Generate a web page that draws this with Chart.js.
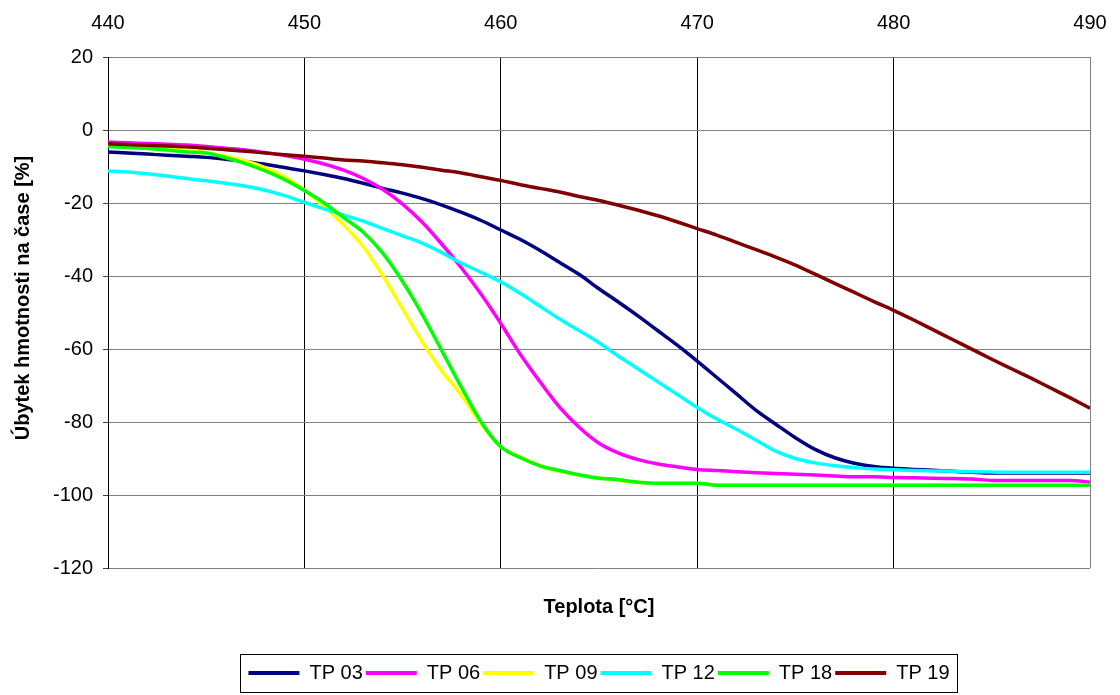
<!DOCTYPE html>
<html>
<head>
<meta charset="utf-8">
<script src="https://cdn.jsdelivr.net/npm/chart.js@4/dist/chart.umd.min.js"></script>
<style>
  html, body { margin: 0; padding: 0; background: #fff; }
  canvas { display: block; }
</style>
</head>
<body>
<canvas id="tgChart" width="1120" height="695"></canvas>
<script>
// temperatures [°C], one reading per degree
const temps = [440, 441, 442, 443, 444, 445, 446, 447, 448, 449,
               450, 451, 452, 453, 454, 455, 456, 457, 458, 459,
               460, 461, 462, 463, 464, 465, 466, 467, 468, 469,
               470, 471, 472, 473, 474, 475, 476, 477, 478, 479,
               480, 481, 482, 483, 484, 485, 486, 487, 488, 489, 490];

const tp03 = [-6.0, -6.3, -6.6, -6.9, -7.2, -7.5, -8.0, -8.6, -9.4, -10.3,
              -11.2, -12.2, -13.3, -14.6, -16.0, -17.3, -18.8, -20.6, -22.6, -24.8,
              -27.4, -30.0, -33.0, -36.3, -39.6, -43.5, -47.2, -51.0, -55.0, -59.0,
              -63.3, -67.8, -72.3, -76.8, -80.6, -84.3, -87.5, -89.8, -91.3, -92.2,
              -92.7, -93.0, -93.2, -93.5, -93.8, -94.0, -94.0, -94.0, -94.0, -94.0, -94.0];

const tp06 = [-3.3, -3.5, -3.7, -3.9, -4.1, -4.5, -5.0, -5.5, -6.2, -7.0,
              -8.0, -9.3, -11.0, -13.3, -16.3, -20.3, -25.3, -31.3, -37.8, -45.0,
              -53.0, -61.5, -69.0, -76.0, -81.5, -85.8, -88.5, -90.3, -91.5, -92.3,
              -93.0, -93.3, -93.6, -93.9, -94.1, -94.3, -94.5, -94.8, -95.0, -95.0,
              -95.2, -95.3, -95.4, -95.5, -95.6, -96.0, -96.0, -96.0, -96.0, -96.0, -96.5];

const tp09 = [-4.0, -4.2, -4.5, -5.0, -5.5, -6.2, -7.2, -8.5, -10.3, -12.8,
              -16.5, -21.0, -26.0, -32.0, -40.0, -49.0, -58.0, -66.0, -72.7, -80.5,
              -86.8, -89.6, -92.0, -93.5, -94.5, -95.3, -96.0, -96.5, -96.8, -96.8,
              -96.8, -97.3, -97.3, -97.3, -97.3, -97.3, -97.3, -97.3, -97.3, -97.3,
              -97.3, -97.3, -97.3, -97.3, -97.3, -97.3, -97.3, -97.3, -97.3, -97.3, -97.3];

const tp12 = [-11.2, -11.5, -12.0, -12.6, -13.3, -13.9, -14.6, -15.4, -16.5, -18.0,
              -19.8, -21.6, -23.3, -25.0, -27.0, -29.0, -31.0, -33.6, -36.5, -39.0,
              -41.6, -44.8, -48.3, -51.8, -55.0, -58.3, -62.0, -65.5, -69.0, -72.5,
              -76.0, -79.2, -82.0, -85.0, -88.0, -90.0, -91.2, -92.0, -92.5, -92.9,
              -93.1, -93.3, -93.4, -93.5, -93.6, -93.7, -93.8, -93.8, -93.8, -93.8, -93.8];

const tp18 = [-4.5, -4.8, -5.1, -5.5, -6.0, -6.3, -7.6, -9.2, -11.2, -13.6,
              -16.6, -20.0, -24.0, -28.0, -33.8, -41.5, -50.5, -60.5, -70.5, -80.0,
              -86.8, -89.8, -92.0, -93.3, -94.5, -95.4, -95.8, -96.5, -96.8, -96.8,
              -96.8, -97.3, -97.3, -97.3, -97.3, -97.3, -97.3, -97.3, -97.3, -97.3,
              -97.3, -97.3, -97.3, -97.3, -97.3, -97.3, -97.3, -97.3, -97.3, -97.3, -97.3];

const tp19 = [-3.8, -4.0, -4.2, -4.4, -4.6, -5.0, -5.4, -5.8, -6.3, -6.8,
              -7.2, -7.7, -8.2, -8.5, -9.0, -9.5, -10.2, -11.0, -11.8, -12.8,
              -13.8, -15.0, -16.0, -17.0, -18.2, -19.3, -20.6, -22.0, -23.5, -25.2,
              -27.0, -28.8, -30.8, -32.8, -34.8, -37.0, -39.5, -42.0, -44.5, -47.0,
              -49.4, -52.0, -54.7, -57.4, -60.1, -62.8, -65.4, -68.0, -70.7, -73.4, -76.2];

const seriesNames = ['TP 03', 'TP 06', 'TP 09', 'TP 12', 'TP 18', 'TP 19'];
const seriesValues = [tp03, tp06, tp09, tp12, tp18, tp19];
const seriesColors = ['#000080', '#FF00FF', '#FFFF00', '#00FFFF', '#00FF00', '#800000'];

const xTicks = [440, 450, 460, 470, 480, 490];
const yTicks = [20, 0, -20, -40, -60, -80, -100, -120];

const FONT = '"Liberation Sans", Arial, sans-serif';

// y axis title, placed like the Excel original (a bit above plot centre)
const yTitlePlugin = {
    id: 'yTitle',
    afterDraw(chart) {
        const ctx = chart.ctx;
        ctx.save();
        ctx.translate(23, 298);
        ctx.rotate(-Math.PI / 2);
        ctx.font = 'bold 20px ' + FONT;
        ctx.fillStyle = '#000';
        ctx.textAlign = 'center';
        ctx.textBaseline = 'middle';
        ctx.fillText('Úbytek hmotnosti na čase [%]', 0, 0);
        ctx.restore();
    }
};

// frame round the legend
const legendBoxPlugin = {
    id: 'legendBox',
    afterDraw(chart) {
        const boxes = chart.legend && chart.legend.legendHitBoxes;
        if (!boxes || !boxes.length) return;
        const first = boxes[0], last = boxes[boxes.length - 1];
        const cy = first.top + first.height / 2;
        const ctx = chart.ctx;
        ctx.save();
        ctx.strokeStyle = '#000';
        ctx.lineWidth = 1;
        ctx.strokeRect(Math.round(first.left - 8) + 0.5, Math.round(cy - 19) + 0.5,
                       Math.round(last.left + last.width - first.left + 16), 38);
        ctx.restore();
    }
};

const tgChart = new Chart(document.getElementById('tgChart').getContext('2d'), {
    type: 'line',
    data: {
        datasets: seriesNames.map((name, i) => ({
            label: name,
            data: temps.map((t, k) => ({ x: t, y: seriesValues[i][k] })),
            borderColor: seriesColors[i],
            backgroundColor: seriesColors[i],
            borderWidth: 3.5,
            pointRadius: 0,
            cubicInterpolationMode: 'monotone',
            fill: false,
            order: seriesNames.length - i   // later series painted on top
        }))
    },
    options: {
        responsive: false,
        animation: false,
        layout: { padding: { top: 0, left: 0, right: 30, bottom: 2 } },
        plugins: {
            tooltip: { enabled: false },
            legend: {
                position: 'bottom',
                fullSize: false,
                labels: {
                    font: { family: FONT, size: 20 },
                    color: '#000',
                    boxWidth: 51,
                    boxHeight: 4,
                    padding: 3,
                    sort: (a, b) => a.datasetIndex - b.datasetIndex,
                    generateLabels: chart => Chart.defaults.plugins.legend.labels.generateLabels(chart)
                        .map(item => Object.assign(item, { lineWidth: 0 }))
                }
            }
        },
        scales: {
            x: {
                type: 'linear',
                position: 'top',
                min: 440,
                max: 490,
                afterBuildTicks: s => { s.ticks = xTicks.map(v => ({ value: v })); },
                afterFit: s => { s.height = 57; s.paddingLeft = 0; s.paddingRight = 0; },
                ticks: { font: { family: FONT, size: 20 }, color: '#000', padding: 22 },
                grid: {
                    drawTicks: false,
                    color: c => (c.tick && c.tick.value === 490) ? '#808080' : '#000',
                    lineWidth: 1
                },
                border: { color: '#808080' }
            },
            x2: {
                type: 'linear',
                display: true,
                position: 'bottom',
                min: 440,
                max: 490,
                afterFit: s => { s.height = 92; s.paddingLeft = 0; s.paddingRight = 0; },
                ticks: { display: false },
                grid: { display: false, drawTicks: false },
                border: { display: false },
                title: {
                    display: true,
                    text: 'Teplota [°C]',
                    color: '#000',
                    font: { family: FONT, size: 20, weight: 'bold' },
                    padding: { top: 0, bottom: 41 }
                }
            },
            y: {
                type: 'linear',
                min: -120,
                max: 20,
                afterBuildTicks: s => { s.ticks = yTicks.map(v => ({ value: v })); },
                afterFit: s => { s.width = 108; },
                ticks: { font: { family: FONT, size: 20 }, color: '#000', padding: 10 },
                grid: { color: '#808080', tickColor: '#404040', tickLength: 5, lineWidth: 1 },
                border: { color: '#000', width: 1 }
            }
        }
    },
    plugins: [yTitlePlugin, legendBoxPlugin]
});
</script>
</body>
</html>
